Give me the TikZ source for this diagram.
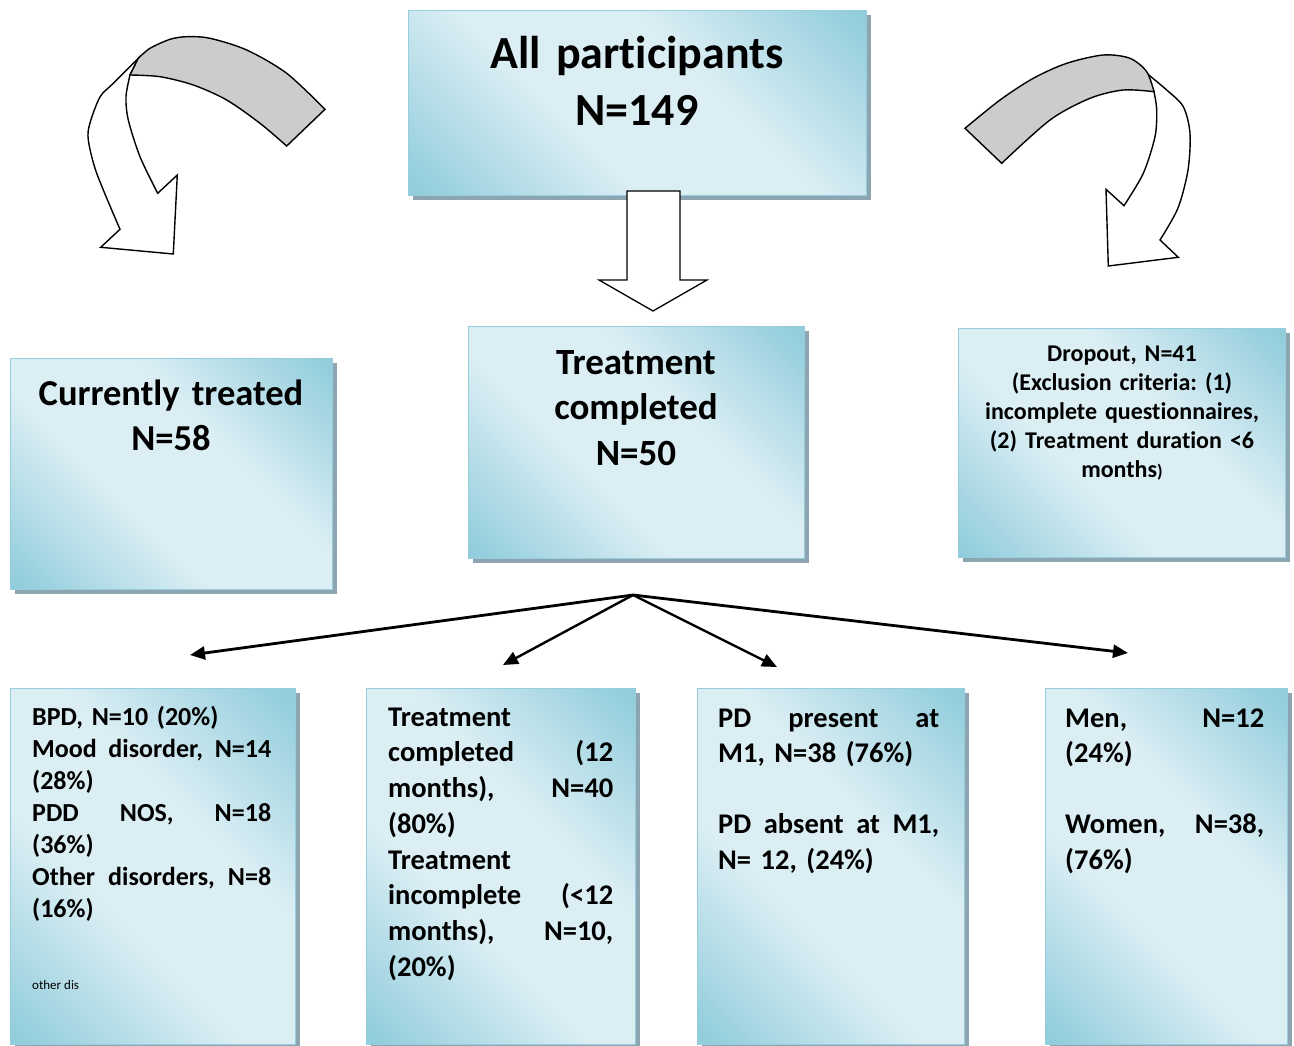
\documentclass[tikz,border=0pt]{standalone}
\usepackage{fontspec}
\setmainfont{Carlito}[Ligatures=NoCommon]
\usetikzlibrary{arrows.meta,shadows}
\definecolor{bxdark}{RGB}{146,205,220}
\definecolor{bxlight}{RGB}{219,238,244}
\definecolor{bxline}{RGB}{150,206,221}
\definecolor{shadowc}{RGB}{141,165,176}
\definecolor{bandgray}{RGB}{204,204,204}
\pgfdeclareverticalshading{boxshade}{100bp}{color(0bp)=(bxdark); color(16bp)=(bxdark); color(40bp)=(bxlight); color(60bp)=(bxlight); color(84bp)=(bxdark); color(100bp)=(bxdark)}
\setlength{\parindent}{0pt}
\frenchspacing
\newcommand\jst[2]{\leavevmode\hbox to #1{#2}}
\newcommand\fs[2]{\fontsize{#1}{#2}\selectfont}
\begin{document}
\begin{tikzpicture}[x=1pt,y=-1pt,
  bx/.style={draw=bxline, line width=1.2pt, shading=boxshade, shading angle=-45,
    anchor=north west, inner sep=0pt,
    drop shadow={shadow xshift=4pt, shadow yshift=-4pt, fill=shadowc, opacity=1}},
  ctxt/.style={inner sep=0pt, anchor=north, align=center},
  ltxt/.style={inner sep=0pt, anchor=north west, align=left},
  carrow/.style={draw=black, line width=1.4pt, line join=miter},
  fan/.style={draw=black, -{Triangle[length=15pt,width=13pt]}},
  blockarrow/.style={draw=black, fill=white, line width=1.3pt, line join=miter}
]
\useasboundingbox (0,0) rectangle (1294,1046);

% boxes
\node[bx, minimum width=458pt, minimum height=185pt] (top) at (408,10) {};
\node[bx, minimum width=322pt, minimum height=231pt] (cur) at (10,358) {};
\node[bx, minimum width=336pt, minimum height=232pt] (tc) at (468,326) {};
\node[bx, minimum width=327pt, minimum height=229pt] (drop) at (958,328) {};
\node[bx, minimum width=285pt, minimum height=356pt] (b1) at (10,688) {};
\node[bx, minimum width=269pt, minimum height=356pt] (b2) at (366,688) {};
\node[bx, minimum width=267pt, minimum height=356pt] (b3) at (697,688) {};
\node[bx, minimum width=242pt, minimum height=356pt] (b4) at (1045,688) {};

% texts
\node[ctxt, text width=458pt, font=\bfseries\fs{46}{57}] (toptxt) at (637,22)
  {\rule{0pt}{46pt}All participants\\N=149};
\node[ctxt, text width=322pt, font=\bfseries\fs{36.5}{45}] (curtxt) at (171,368.5)
  {\rule{0pt}{36.5pt}Currently treated\\N=58};
\node[ctxt, text width=336pt, font=\bfseries\fs{37}{45.5}] (tctxt) at (636,337)
  {\rule{0pt}{37pt}Treatment\\completed\\N=50};
\node[ctxt, text width=327pt, font=\bfseries\fs{24}{29}] (droptxt) at (1122,337)
  {\rule{0pt}{24pt}Dropout, N=41\\(Exclusion criteria: (1)\\incomplete questionnaires,\\(2) Treatment duration <6\\months{\fs{18}{29})}};

\node[ltxt, text width=239pt, font=\bfseries\fs{26}{32}] (b1txt) at (32,699)
  {\rule{0pt}{26pt}BPD, N=10 (20\%)\\
   \jst{239pt}{Mood\hfill disorder,\hfill N=14}\\
   (28\%)\\
   \jst{239pt}{PDD\hfill NOS,\hfill N=18}\\
   (36\%)\\
   \jst{239pt}{Other\hfill disorders,\hfill N=8}\\
   (16\%)};
\node[anchor=base west, inner sep=0pt, font=\fs{13}{15}] (b1small) at (32,989) {other dis};

\node[ltxt, text width=225pt, font=\bfseries\fs{28.5}{35.7}] (b2txt) at (388,697.5)
  {\rule{0pt}{28.5pt}Treatment\\
   \jst{225pt}{completed\hfill (12}\\
   \jst{225pt}{months),\hfill N=40}\\
   (80\%)\\
   Treatment\\
   \jst{225pt}{incomplete\hfill (<12}\\
   \jst{225pt}{months),\hfill N=10,}\\
   (20\%)};
\node[ltxt, text width=221pt, font=\bfseries\fs{28.5}{35.5}] (b3txt) at (718,698.5)
  {\rule{0pt}{28.5pt}\jst{221pt}{PD\hfill present\hfill at}\\
   M1, N=38 (76\%)\\[35.5pt]
   \jst{221pt}{PD\hfill absent\hfill at\hfill M1,}\\
   N= 12, (24\%)};
\node[ltxt, text width=199pt, font=\bfseries\fs{28.5}{35.5}] (b4txt) at (1065,698.5)
  {\rule{0pt}{28.5pt}\jst{199pt}{Men,\hfill N=12}\\
   (24\%)\\[35.5pt]
   \jst{199pt}{Women,\hfill N=38,}\\
   (76\%)};

% block arrow down
\path[blockarrow] (627,191) -- (680,191) -- (680,280) -- (707,280) -- (653,311)
  -- (599,280) -- (627,280) -- cycle;

% left curved arrow
\path[carrow, fill=white] plot[smooth] coordinates {(138.3,58.3) (113.3,83.3) (100,97) (90,123) (88.3,140) (96.7,173.3) (120,229.3)}
  -- (100.7,247.3) -- (173.3,254) -- (177.3,175) -- (157.7,193.3)
  -- plot[smooth] coordinates {(157.7,193.3) (140,156.7) (128.3,120) (126,96.7) (130,75)} -- cycle;
\path[carrow, fill=bandgray] plot[smooth] coordinates {(138.3,58.3) (150,48.3) (170,39.3) (186.7,36.7) (210,38.3) (246.7,50) (286.7,73.3) (325,109.3)}
  -- (286.7,146)
  -- plot[smooth] coordinates {(286.7,146) (260,123.3) (226.7,100) (193.3,85) (160,76.7) (130,75)} -- cycle;

% right curved arrow
\path[carrow, fill=white] plot[smooth] coordinates {(1146.7,73.3) (1166.7,90) (1183.3,106.7) (1190,133.3) (1188,170) (1178,208) (1160,240)}
  -- (1178.3,257.3) -- (1108.3,266) -- (1106,189.3) -- (1124,205.7)
  -- plot[smooth] coordinates {(1124,205.7) (1143.3,173.3) (1155,136.7) (1156.7,110) (1154,91.7)} -- cycle;
\path[carrow, fill=bandgray] plot[smooth] coordinates {(965,128.3) (1000,100) (1033.3,78.3) (1066.7,63.3) (1103.3,55) (1130,58.3) (1146.7,71.7) (1154,91.7)}
  -- plot[smooth] coordinates {(1154,91.7) (1123.3,90) (1090,98.3) (1050,120) (1001.7,163.3)} -- cycle;

% fan arrows
\coordinate (apex) at (633,595);
\coordinate (t1) at (190,655);
\coordinate (t2) at (503,665);
\coordinate (t3) at (777,667);
\coordinate (t4) at (1128,653);
\draw[fan, line width=2.8pt] (apex) -- (t1);
\draw[fan, line width=2.4pt] (apex) -- (t2);
\draw[fan, line width=2.4pt] (apex) -- (t3);
\draw[fan, line width=2.8pt] (apex) -- (t4);
\end{tikzpicture}
\end{document}
